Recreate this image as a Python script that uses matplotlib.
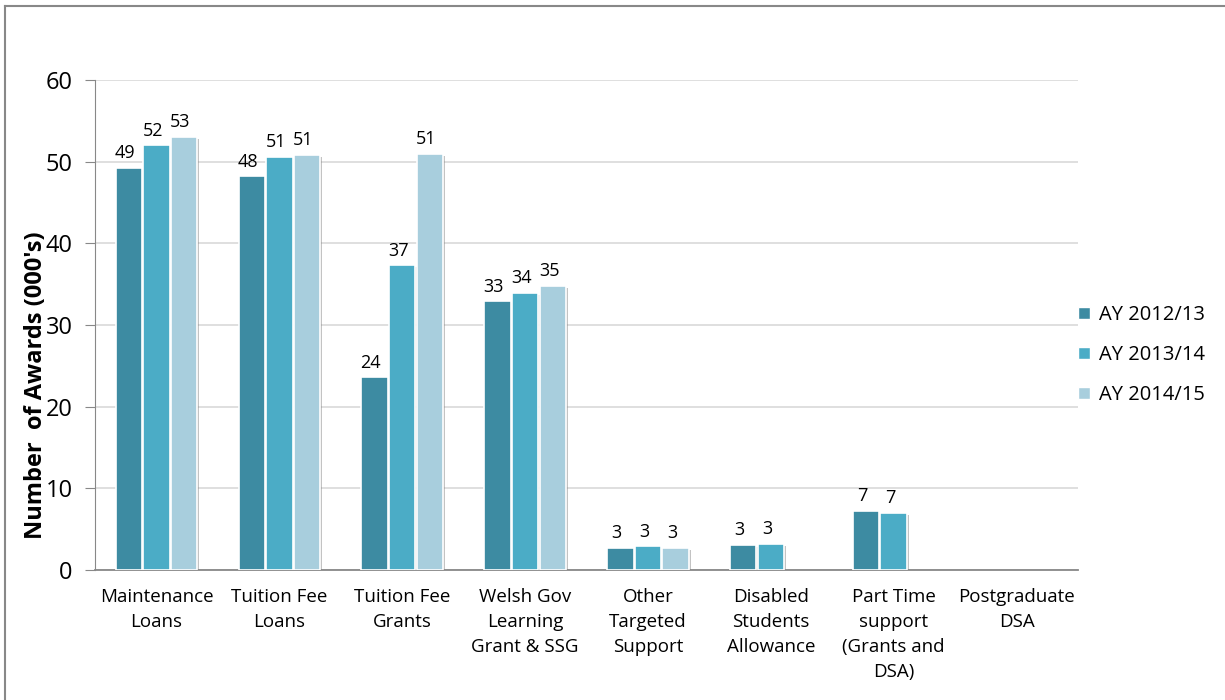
import numpy as np
import matplotlib.pyplot as plt
from matplotlib.lines import Line2D
import matplotlib.patheffects as pe

plt.rcParams['font.family'] = ['Open Sans', 'DejaVu Sans']

categories = ['Maintenance\nLoans', 'Tuition Fee\nLoans', 'Tuition Fee\nGrants',
              'Welsh Gov\nLearning\nGrant & SSG', 'Other\nTargeted\nSupport',
              'Disabled\nStudents\nAllowance', 'Part Time\nsupport\n(Grants and\nDSA)',
              'Postgraduate\nDSA']
years = ['AY 2012/13', 'AY 2013/14', 'AY 2014/15']
ay_2012 = [49.2, 48.2, 23.6, 32.9, 2.7, 3.1, 7.2, np.nan]
ay_2013 = [52.0, 50.6, 37.3, 33.9, 2.9, 3.2, 7.0, np.nan]
ay_2014 = [53.0, 50.8, 51.0, 34.8, 2.7, np.nan, np.nan, np.nan]
colors = ['#3D8BA2', '#4BACC6', '#A8CEDD']

fig = plt.figure(figsize=(12.25, 7), dpi=100)
ax = fig.add_axes([0.0776, 0.1857, 0.8024, 0.7])

x = np.arange(len(categories))
w = 0.215
shadow = [pe.SimplePatchShadow(offset=(1.5, -1.5), shadow_rgbFace='#888888', alpha=0.5), pe.Normal()]
for i, (vals, c) in enumerate(zip([ay_2012, ay_2013, ay_2014], colors)):
    pos = x + (i - 1) * (w + 0.01)
    bars = ax.bar(pos, vals, width=w, color=c, edgecolor='white', linewidth=1.2,
                  label=years[i], zorder=3)
    for b in bars:
        b.set_path_effects(shadow)
    for p, v in zip(pos, vals):
        if not np.isnan(v):
            ax.text(p - 0.03, v + 0.7, f'{v:.0f}', ha='center', va='bottom', fontsize=13, zorder=4)

ax.set_xlim(-0.5, 7.5)
ax.set_ylim(0, 60)
ax.set_yticks(range(0, 61, 10))
ax.tick_params(axis='y', labelsize=17, length=7, color='#888888', pad=9)
ax.tick_params(axis='x', length=0, labelsize=13.5, pad=13)
ax.set_xticks(x)
ax.set_xticklabels(categories, va='top', linespacing=1.5)
ax.grid(axis='y', color='#D9D9D9', linewidth=1.2, zorder=0)
for s in ['top', 'right']:
    ax.spines[s].set_visible(False)
ax.spines['left'].set_color('#888888')
ax.spines['bottom'].set_color('#888888')
ax.spines['bottom'].set_linewidth(1.3)

fig.text(0.0295, 0.45, "Number  of Awards (000's)", rotation=90, ha='center', va='center',
         fontsize=17, fontweight='bold')

handles = [Line2D([], [], marker='s', linestyle='none', markersize=9, color=c,
                  markeredgecolor='white') for c in colors]
fig.legend(handles, years, loc='center left', bbox_to_anchor=(0.872, 0.493), frameon=False,
           fontsize=14.5, handlelength=0.8, handletextpad=0.35, labelspacing=1.0,
           borderaxespad=0)

# outer frame (left and top edges)
fig.add_artist(Line2D([0.004, 0.004], [0, 0.991], color='#888888', linewidth=1.5))
fig.add_artist(Line2D([0.004, 1.0], [0.991, 0.991], color='#888888', linewidth=1.5))

fig.savefig('out.png', dpi=100)
